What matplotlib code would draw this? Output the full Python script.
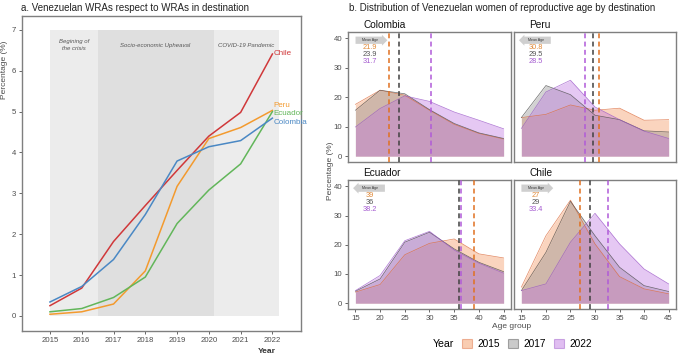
import numpy as np
import matplotlib
matplotlib.use("Agg")
import matplotlib.pyplot as plt
from matplotlib.patches import Patch
from matplotlib.offsetbox import HPacker

plt.rcParams['font.family'] = ['Liberation Sans', 'DejaVu Sans']

# ---- panel a data ----
years = [2015, 2016, 2017, 2018, 2019, 2020, 2021, 2022]
wra = {
    "Chile":    [0.25, 0.68, 1.82, 2.70, 3.56, 4.40, 4.98, 6.41],
    "Peru":     [0.04, 0.10, 0.29, 1.10, 3.17, 4.34, 4.61, 5.03],
    "Ecuador":  [0.10, 0.18, 0.45, 0.95, 2.26, 3.08, 3.72, 5.00],
    "Colombia": [0.34, 0.72, 1.38, 2.48, 3.79, 4.14, 4.29, 4.84],
}
line_colors = {"Chile": "#d0383a", "Peru": "#f39a2e", "Ecuador": "#62b65a", "Colombia": "#4a88c4"}
label_offsets = {"Chile": 0.0, "Peru": 0.13, "Ecuador": -0.04, "Colombia": -0.1}

period_start = [2015, 2016.5, 2020.15]
period_end = [2016.5, 2020.15, 2022.2]
period_names = ["Begining of\nthe crisis", "Socio-economic Upheaval", "COVID-19 Pandemic"]
period_colors = ["#ececec", "#dfdfdf", "#ececec"]

# ---- panel b data ----
ages = [15, 20, 25, 30, 35, 40, 45]
dist_years = ["2015", "2017", "2022"]
dist = {
    "Colombia": {"2015": [17.6, 22.4, 20.7, 15.6, 10.8, 7.7, 5.8],
                 "2017": [15.6, 22.4, 21.2, 15.8, 11.1, 7.9, 6.0],
                 "2022": [9.9, 16.2, 20.5, 18.6, 15.0, 12.2, 9.3]},
    "Peru":     {"2015": [13.1, 14.2, 17.4, 15.6, 16.3, 12.2, 12.4],
                 "2017": [13.1, 24.0, 20.9, 13.9, 12.4, 8.6, 8.2],
                 "2022": [9.4, 21.8, 25.8, 16.7, 12.4, 8.5, 6.0]},
    "Ecuador":  {"2015": [3.8, 6.4, 16.6, 20.5, 22.0, 16.9, 15.5],
                 "2017": [4.1, 8.3, 20.9, 24.3, 18.6, 14.0, 10.8],
                 "2022": [4.3, 9.5, 21.4, 24.6, 18.2, 13.7, 10.3]},
    "Chile":    {"2015": [5.5, 23.1, 35.3, 20.3, 9.1, 4.9, 3.2],
                 "2017": [4.3, 17.4, 34.9, 23.1, 12.3, 6.0, 4.0],
                 "2022": [4.3, 6.6, 20.9, 30.8, 20.3, 11.7, 6.6]},
}
mean_line = {"Colombia": [21.9, 23.9, 30.3], "Peru": [30.8, 29.5, 28.0],
             "Ecuador": [39.0, 36.0, 36.3], "Chile": [27.0, 29.0, 32.6]}
mean_text = {"Colombia": ["21.9", "23.9", "31.7"], "Peru": ["30.8", "29.5", "28.5"],
             "Ecuador": ["39", "36", "38.2"], "Chile": ["27", "29", "33.4"]}

fill_colors = {"2015": "#f29056", "2017": "#8a8a8a", "2022": "#bb6fe0"}
edge_colors = {"2015": "#dc6a3a", "2017": "#4a4a4a", "2022": "#9a55c8"}
vline_colors = {"2015": "#e07020", "2017": "#404040", "2022": "#b05ad8"}
text_colors = {"2015": "#e08a3a", "2017": "#555555", "2022": "#a45ad0"}

W, H = 685, 357
fig = plt.figure(figsize=(W / 100, H / 100), dpi=100)


def px_axes(x0, y0, x1, y1):
    return fig.add_axes([x0 / W, 1 - y1 / H, (x1 - x0) / W, (y1 - y0) / H])


grey = "#4d4d4d"
frame = "#7f7f7f"

# ---------------- panel a ----------------
ax = px_axes(22, 16, 301, 331)
for s, e, name, c in zip(period_start, period_end, period_names, period_colors):
    ax.fill_between([s, e], 0, 7, color=c, lw=0, zorder=0)
    ax.text((s + e) / 2, 6.62, name, ha="center", va="center", fontsize=4.3,
            style="italic", color="#555555", linespacing=1.5)
for country, vals in wra.items():
    ax.plot(years, vals, color=line_colors[country], lw=1.1, zorder=3)
    ax.text(years[-1] + 0.04, vals[-1] + label_offsets[country], country,
            color=line_colors[country], fontsize=5.8, va="center", ha="left")
ax.set_xlim(2014.12, 2022.9)
ax.set_ylim(-0.37, 7.34)
ax.set_xticks(years)
ax.set_yticks(range(8))
ax.tick_params(labelsize=5.6, colors=grey, length=2.5, width=0.6, pad=2)
for sp in ax.spines.values():
    sp.set_color(frame)
    sp.set_linewidth(1.0)
ax.set_ylabel("Percentage (%)", fontsize=6, color=grey)
ax.yaxis.set_label_coords(-0.05, 0.83)
ax.set_xlabel("Year", fontsize=6, fontweight="bold", color="#333333")
ax.xaxis.set_label_coords(0.878, -0.055)
fig.text(21 / W, 1 - 8 / H, "a. Venezuelan WRAs respect to WRAs in destination",
         fontsize=7, va="center", ha="left", color="#222222")

# ---------------- panel b ----------------
boxes = {"Colombia": (348, 32, 511, 162), "Peru": (514, 32, 676, 162),
         "Ecuador": (348, 180, 511, 309), "Chile": (514, 180, 676, 309)}
for country, (x0, y0, x1, y1) in boxes.items():
    bx = px_axes(x0, y0, x1, y1)
    for yr in dist_years:
        v = dist[country][yr]
        bx.fill_between(ages, 0, v, color=fill_colors[yr], alpha=0.38, lw=0, zorder=1)
        bx.plot(ages, v, color=edge_colors[yr], lw=0.5, alpha=0.8, zorder=2)
    for i, yr in enumerate(dist_years):
        bx.axvline(mean_line[country][i], color=vline_colors[yr], lw=1.1,
                   dashes=(3.2, 2.2), zorder=3)
        bx.text(18, 36.8 - 2.3 * i, mean_text[country][i], color=text_colors[yr],
                fontsize=5.3, ha="center", va="center", zorder=4)
    first = float(mean_text[country][0])
    last = float(mean_text[country][-1])
    style = "rarrow,pad=0.45" if last > first else "larrow,pad=0.45"
    bx.text(18, 39.4, "     Mean Age     ", fontsize=2.6, ha="center", va="center",
            color="#333333", zorder=4,
            bbox=dict(boxstyle=style, fc="#cfcfcf", ec="none"))
    bx.set_xlim(13.5, 46.5)
    bx.set_ylim(-2, 42.2)
    bx.set_yticks([0, 10, 20, 30, 40])
    bx.set_xticks([15, 20, 25, 30, 35, 40, 45])
    bx.tick_params(labelsize=5.6, colors=grey, length=2.5, width=0.6, pad=1.5)
    if y0 < 100:
        bx.tick_params(axis="x", length=0, labelbottom=False)
    if x0 > 500:
        bx.tick_params(axis="y", length=0, labelleft=False)
    for sp in bx.spines.values():
        sp.set_color(frame)
        sp.set_linewidth(1.0)
    fig.text((x0 + 15) / W, 1 - (y0 - 7) / H, country, fontsize=7.3,
             ha="left", va="center", color="#111111")

fig.text(330 / W, 1 - 171 / H, "Percentage (%)", rotation=90, fontsize=6,
         ha="center", va="center", color=grey)
fig.text(512 / W, 1 - 326 / H, "Age group", fontsize=6, ha="center", va="center",
         color=grey)
fig.text(349 / W, 1 - 8 / H,
         "b. Distribution of Venezuelan women of reproductive age by destination",
         fontsize=7, va="center", ha="left", color="#222222")

handles = [Patch(facecolor=fill_colors[yr], edgecolor=edge_colors[yr], alpha=0.45,
                 lw=0.8, label=yr) for yr in dist_years]
leg = fig.legend(handles=handles, loc="center", bbox_to_anchor=(512 / W, 1 - 344 / H),
                 ncol=3, frameon=False, fontsize=7.3, title="Year",
                 handlelength=1.0, handleheight=1.0, handletextpad=0.5,
                 columnspacing=0.8, borderaxespad=0)
leg.get_title().set_fontsize(7.6)
# put the title to the left of the entries, as in ggplot
lb = leg._legend_box
lb._children = [HPacker(children=list(lb.get_children()), align="center", pad=0, sep=6)]

fig.savefig("out.png", dpi=100)
